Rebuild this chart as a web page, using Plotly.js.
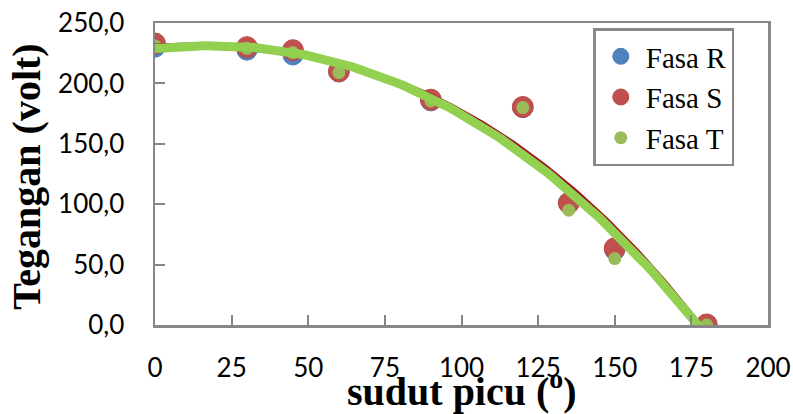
<!DOCTYPE html>
<html>
<head>
<meta charset="utf-8">
<script src="https://cdn.plot.ly/plotly-3.0.1.min.js"></script>
<style>html,body{margin:0;padding:0;background:#fff;}#chart{width:793px;height:414px;}</style>
</head>
<body>
<div id="chart"></div>
<script>
// Data
const sudutPicu = [0, 30, 45, 60, 90, 120, 135, 150, 180];
const fasaR = [230, 227.5, 223.5, 209.5, 185.5, 180, 101, 62, 0];
const fasaS = [233, 230, 227.5, 210, 186.5, 180.5, 101, 63.5, 0.5];
const fasaT = [231, 229, 225.5, 209, 185.5, 180, 95, 55, 0];
const seriesNames = ["Fasa R", "Fasa S", "Fasa T"];
const xTicks = [0, 25, 50, 75, 100, 125, 150, 175, 200];
const yTicks = [0, 50, 100, 150, 200, 250];
const trendOrder = 3;

// Polynomial least-squares trendline (as in the original Excel chart)
function polyfit(xs, ys, n) {
  const m = n + 1;
  const A = [];
  for (let r = 0; r < m; r++) {
    A.push(new Array(m + 1).fill(0));
    for (let c = 0; c < m; c++) {
      let s = 0;
      for (let i = 0; i < xs.length; i++) s += Math.pow(xs[i], r + c);
      A[r][c] = s;
    }
    let t = 0;
    for (let i = 0; i < xs.length; i++) t += Math.pow(xs[i], r) * ys[i];
    A[r][m] = t;
  }
  for (let c = 0; c < m; c++) {
    for (let r = c + 1; r < m; r++) {
      const f = A[r][c] / A[c][c];
      for (let k = c; k <= m; k++) A[r][k] -= f * A[c][k];
    }
  }
  const coef = new Array(m).fill(0);
  for (let r = m - 1; r >= 0; r--) {
    let v = A[r][m];
    for (let k = r + 1; k < m; k++) v -= A[r][k] * coef[k];
    coef[r] = v / A[r][r];
  }
  return coef;
}
function trend(xs, ys) {
  const c = polyfit(xs, ys, trendOrder);
  const x0 = Math.min(...xs), x1 = Math.max(...xs);
  const tx = [], ty = [];
  for (let x = x0; x <= x1; x += 1) {
    let v = 0;
    for (let k = c.length - 1; k >= 0; k--) v = v * x + c[k];
    tx.push(x); ty.push(v);
  }
  return {x: tx, y: ty};
}

const tR = trend(sudutPicu, fasaR);
const tS = trend(sudutPicu, fasaS);
const tT = trend(sudutPicu, fasaT);

const data = [
  {x: sudutPicu, y: fasaR, name: seriesNames[0], mode: "markers", type: "scatter",
   marker: {color: "#4F81BD", size: 20, line: {color: "#4A7EBB", width: 1}}},
  {x: sudutPicu, y: fasaS, name: seriesNames[1], mode: "markers", type: "scatter",
   marker: {color: "#C0504D", size: 21, line: {color: "#B94A47", width: 1}}},
  {x: sudutPicu, y: fasaT, name: seriesNames[2], mode: "markers", type: "scatter",
   marker: {color: "#9BBB59", size: 13, line: {color: "#98B954", width: 0}}},
  {x: tR.x, y: tR.y, mode: "lines", type: "scatter", showlegend: false, hoverinfo: "skip",
   line: {color: "#3F6FB8", width: 3.5}},
  {x: tS.x, y: tS.y, mode: "lines", type: "scatter", showlegend: false, hoverinfo: "skip",
   line: {color: "#A0141E", width: 3.5}},
  {x: tT.x, y: tT.y, mode: "lines", type: "scatter", showlegend: false, hoverinfo: "skip",
   line: {color: "#92D050", width: 9}}
];

const axisCol = "#878787";
const layout = {
  width: 793, height: 414,
  margin: {l: 155, r: 25, t: 23, b: 89, pad: 0},
  paper_bgcolor: "#fff", plot_bgcolor: "#fff",
  separators: ", ",
  showlegend: true,
  font: {family: "Lato, sans-serif", color: "#000"},
  xaxis: {
    range: [0, 200], tickvals: xTicks, ticktext: xTicks.map(String),
    showgrid: false, zeroline: false,
    showline: true, linecolor: axisCol, linewidth: 2.5, mirror: true,
    ticks: "inside", ticklen: 10, tickwidth: 2, tickcolor: axisCol,
    ticklabelstandoff: 18,
    tickfont: {family: "Lato, sans-serif", size: 26, color: "#000"}
  },
  yaxis: {
    range: [0, 250], tickvals: yTicks, tickformat: ".1f",
    showgrid: false, zeroline: false,
    showline: true, linecolor: axisCol, linewidth: 2.5, mirror: true,
    ticks: "inside", ticklen: 10, tickwidth: 2, tickcolor: axisCol,
    ticklabelstandoff: 23,
    tickfont: {family: "Lato, sans-serif", size: 26, color: "#000"}
  },
  legend: {
    x: 0.715, y: 0.982, xanchor: "left", yanchor: "top",
    bgcolor: "#fff", bordercolor: axisCol, borderwidth: 2.5,
    font: {family: "Liberation Serif, Times New Roman, serif", size: 29, color: "#000"},
    itemwidth: 40, tracegroupgap: 0
  },
  annotations: [
    {text: "Tegangan (volt)", xref: "paper", yref: "paper", x: -0.211, y: 0.49,
     xanchor: "center", yanchor: "middle", textangle: -90, showarrow: false,
     font: {family: "Liberation Serif, Times New Roman, serif", size: 40, color: "#000", weight: "bold"}},
    {text: "<b>sudut picu (<sup>o</sup>)</b>", xref: "paper", yref: "paper", x: 0.5, y: -0.21,
     xanchor: "center", yanchor: "middle", showarrow: false,
     font: {family: "Liberation Serif, Times New Roman, serif", size: 40, color: "#000", weight: "bold"}}
  ]
};

Plotly.newPlot("chart", data, layout, {displayModeBar: false, staticPlot: true});
</script>
</body>
</html>
